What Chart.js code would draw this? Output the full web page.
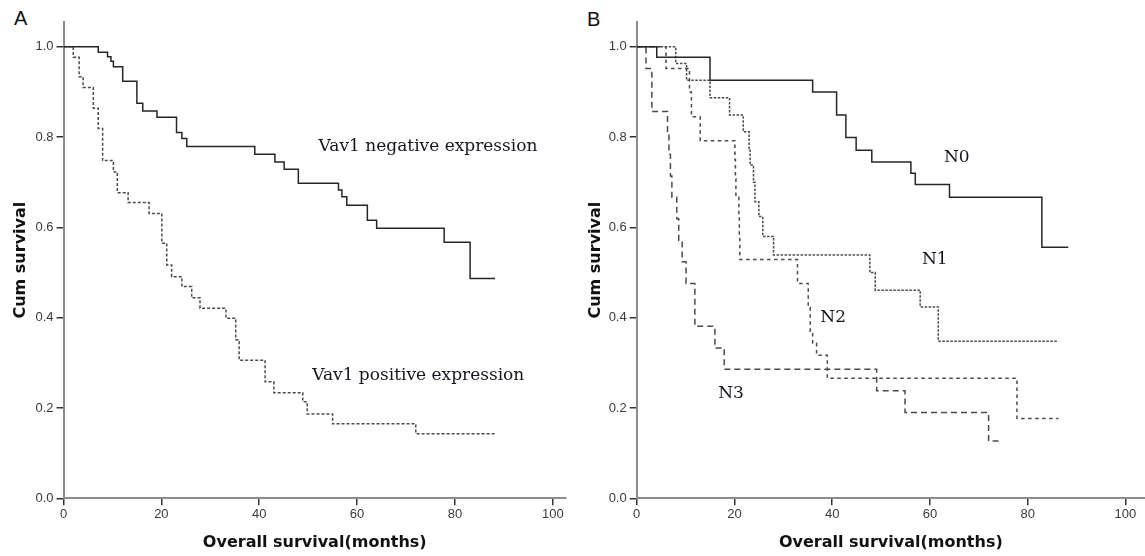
<!DOCTYPE html>
<html>

<head>
  <title>Overall survival</title>
  <script src="https://cdn.jsdelivr.net/npm/chart.js"></script>
  <style>
    body { margin: 0; background: #fff; overflow: hidden; }
    .panel { position: absolute; top: 0; height: 556px; }
    .letter { position: absolute; font: 20px "Liberation Sans", Arial, sans-serif; line-height: 20px; color: #111; }
  </style>
</head>

<body>
  <div class="letter" style="left: 14px; top: 8px;">A</div>
  <div class="letter" style="left: 587px; top: 9px;">B</div>
  <div class="panel" style="left: 0; width: 572px;"><canvas id="chartA"></canvas></div>
  <div class="panel" style="left: 572px; width: 573px;"><canvas id="chartB"></canvas></div>

  <script>
    // tick labels
    var xTicks = [0, 20, 40, 60, 80, 100];
    var yTicks = [0, 0.2, 0.4, 0.6, 0.8, 1.0];

    // panel A - Vav1 negative (solid)
    var negTime = [0, 7.1, 9.0, 9.7, 10.2, 12.1, 15.0, 16.2, 19.1, 23.1, 24.2, 25.2, 39.1, 43.2, 45.1, 48.0, 56.2, 56.9, 57.9, 62.1, 64.0, 77.8, 83.1, 88.2];
    var negSurv = [1, 0.988, 0.978, 0.968, 0.956, 0.924, 0.875, 0.858, 0.844, 0.810, 0.797, 0.779, 0.762, 0.745, 0.729, 0.698, 0.683, 0.668, 0.649, 0.616, 0.598, 0.567, 0.487, 0.487];

    // panel A - Vav1 positive (dashed)
    var posTime = [0, 2.0, 3.2, 4.0, 6.1, 7.1, 8.0, 10.2, 11.0, 13.2, 17.5, 20.1, 21.1, 22.1, 24.2, 26.2, 27.9, 33.2, 35.2, 35.9, 41.2, 43.0, 48.9, 49.8, 55.0, 72.0, 88.4];
    var posSurv = [1, 0.977, 0.934, 0.910, 0.864, 0.819, 0.748, 0.723, 0.677, 0.655, 0.631, 0.565, 0.517, 0.491, 0.469, 0.444, 0.421, 0.399, 0.351, 0.306, 0.258, 0.234, 0.214, 0.187, 0.165, 0.143, 0.143];

    // panel B - N stage
    var n0Time = [0, 4.1, 15.0, 36.0, 40.9, 42.8, 44.9, 48.1, 56.1, 57.0, 64.0, 82.9, 88.3];
    var n0Surv = [1, 0.977, 0.926, 0.900, 0.849, 0.799, 0.771, 0.745, 0.720, 0.695, 0.667, 0.556, 0.556];

    var n1Time = [0, 8.0, 10.2, 15.0, 19.0, 21.8, 23.0, 23.2, 23.9, 24.2, 25.0, 25.8, 28.0, 47.7, 48.8, 58.0, 61.7, 86.3];
    var n1Surv = [1, 0.963, 0.926, 0.887, 0.849, 0.812, 0.775, 0.738, 0.700, 0.657, 0.624, 0.580, 0.539, 0.500, 0.461, 0.424, 0.348, 0.348];

    var n2Time = [0, 6.0, 10.8, 11.2, 13.0, 20.1, 20.2, 20.3, 20.9, 21.0, 21.1, 32.9, 35.1, 35.5, 36.0, 36.8, 39.0, 77.8, 86.3];
    var n2Surv = [1, 0.952, 0.900, 0.845, 0.792, 0.750, 0.708, 0.667, 0.625, 0.583, 0.529, 0.476, 0.423, 0.370, 0.344, 0.317, 0.266, 0.177, 0.177];

    var n3Time = [0, 1.9, 3.1, 6.3, 6.6, 6.9, 7.2, 8.2, 8.6, 9.3, 10.1, 11.9, 16.0, 17.9, 49.1, 54.9, 72.0, 74.5];
    var n3Surv = [1, 0.952, 0.857, 0.810, 0.762, 0.714, 0.667, 0.619, 0.571, 0.524, 0.476, 0.381, 0.333, 0.286, 0.238, 0.190, 0.127, 0.127];

    function toPoints(t, s) {
      return t.map(function (v, i) { return { x: v, y: s[i] }; });
    }

    function curve(t, s, dash, color) {
      return {
        data: toPoints(t, s),
        stepped: 'before',
        borderColor: color,
        borderWidth: 1.5,
        borderDash: dash,
        pointRadius: 0,
        fill: false
      };
    }

    // text next to the curves, placed in data units
    var curveLabels = {
      id: 'curveLabels',
      afterDatasetsDraw: function (chart, args, opts) {
        var ctx = chart.ctx;
        ctx.save();
        ctx.font = '17px "DejaVu Serif", serif';
        ctx.fillStyle = '#15151f';
        ctx.textAlign = 'center';
        ctx.textBaseline = 'middle';
        opts.items.forEach(function (l) {
          ctx.fillText(l.text, chart.scales.x.getPixelForValue(l.x), chart.scales.y.getPixelForValue(l.y));
        });
        ctx.restore();
      }
    };

    function makeOptions(xMax, yWidth, titleGap, rightPad, items) {
      return {
        responsive: true,
        maintainAspectRatio: false,
        animation: false,
        layout: { padding: { top: 22, right: rightPad, bottom: 0, left: 0 } },
        plugins: {
          legend: { display: false },
          tooltip: { enabled: false },
          curveLabels: { items: items }
        },
        scales: {
          x: {
            type: 'linear',
            min: 0,
            max: xMax,
            afterBuildTicks: function (s) { s.ticks = xTicks.map(function (v) { return { value: v }; }); },
            afterFit: function (s) { s.height = 57.7; },
            grid: { drawOnChartArea: false, drawTicks: true, tickLength: 7, color: '#333', lineWidth: 1.5 },
            border: { display: true, color: '#8c8c8c', width: 2 },
            ticks: {
              color: '#3a3a3a',
              font: { family: 'Liberation Sans', size: 13 },
              padding: 1,
              autoSkip: false,
              maxRotation: 0
            },
            title: {
              display: true,
              text: 'Overall survival(months)',
              color: '#111',
              font: { family: 'DejaVu Sans', size: 16, weight: 'bold' },
              padding: { top: 0, bottom: 3.4 }
            }
          },
          y: {
            min: 0,
            max: 1.055,
            afterBuildTicks: function (s) { s.ticks = yTicks.map(function (v) { return { value: v }; }); },
            afterFit: function (s) { s.width = yWidth; },
            grid: { drawOnChartArea: false, drawTicks: true, tickLength: 7, color: '#333', lineWidth: 1.5 },
            border: { display: true, color: '#8c8c8c', width: 2 },
            ticks: {
              color: '#3a3a3a',
              font: { family: 'Liberation Sans', size: 13 },
              padding: 3,
              autoSkip: false,
              callback: function (v) { return v.toFixed(1); }
            },
            title: {
              display: true,
              text: 'Cum survival',
              color: '#111',
              font: { family: 'DejaVu Sans', size: 16, weight: 'bold' },
              padding: { top: titleGap, bottom: 0 }
            }
          }
        }
      };
    }

    var chartA = new Chart(document.getElementById('chartA').getContext('2d'), {
      type: 'line',
      data: {
        datasets: [
          curve(negTime, negSurv, [], '#262626'),
          curve(posTime, posSurv, [3, 2], '#4a4a4a')
        ]
      },
      options: makeOptions(102.7, 63.5, 11.4, 6, [
        { text: 'Vav1 negative expression', x: 74.5, y: 0.778 },
        { text: 'Vav1 positive expression', x: 72.5, y: 0.271 }
      ]),
      plugins: [curveLabels]
    });

    var chartB = new Chart(document.getElementById('chartB').getContext('2d'), {
      type: 'line',
      data: {
        datasets: [
          curve(n0Time, n0Surv, [], '#262626'),
          curve(n1Time, n1Surv, [2.5, 1.5], '#4a4a4a'),
          curve(n2Time, n2Surv, [3.5, 3.5], '#4a4a4a'),
          curve(n3Time, n3Surv, [6, 4], '#4a4a4a')
        ]
      },
      options: makeOptions(104, 64.7, 14.4, 0, [
        { text: 'N0', x: 65.5, y: 0.755 },
        { text: 'N1', x: 61.0, y: 0.529 },
        { text: 'N2', x: 40.2, y: 0.400 },
        { text: 'N3', x: 19.3, y: 0.233 }
      ]),
      plugins: [curveLabels]
    });
  </script>
</body>

</html>
